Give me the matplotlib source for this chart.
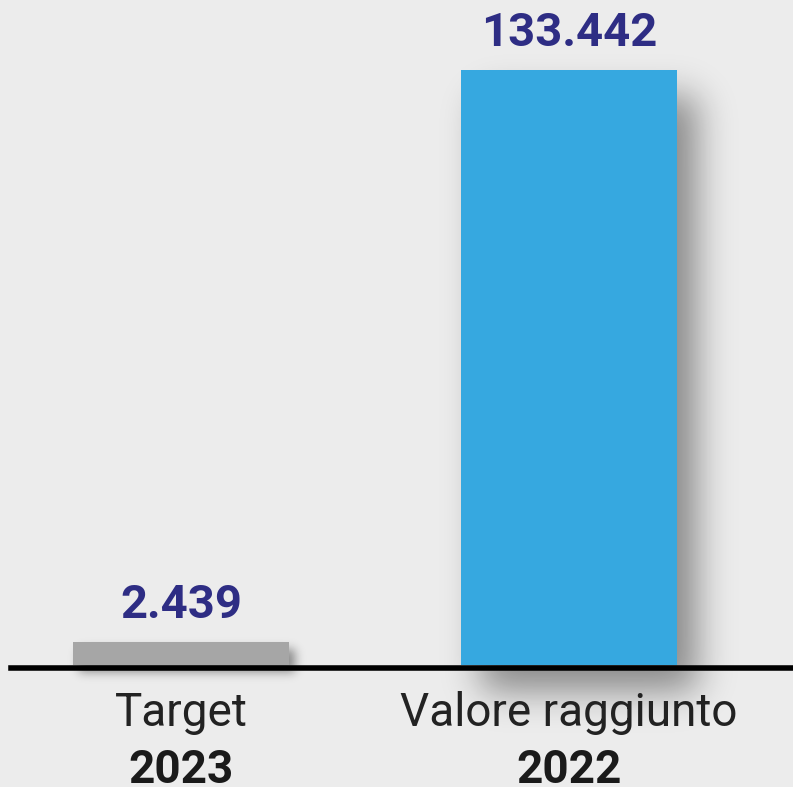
import math
import numpy as np
import matplotlib.pyplot as plt

# data
categories = ["Target", "Valore raggiunto"]
years = ["2023", "2022"]
values = [2439, 133442]
bar_colors = ["#a6a6a6", "#36a8e0"]
min_visible = 5150  # the small target bar is drawn a bit taller in the source

W, H, dpi = 793, 787, 100
fig = plt.figure(figsize=(W / dpi, H / dpi), dpi=dpi, facecolor="#ececec")
ax = fig.add_axes([0, 0, 1, 1])
ax.set_facecolor("#ececec")

px_per_unit = 595 / max(values)
ax.set_ylim(-122 / px_per_unit, 665 / px_per_unit)
ax.set_xlim(-181 / 388, (W - 181) / 388)
ax.axis("off")

x = np.arange(len(values))
heights = np.maximum(values, min_visible)
bars = ax.bar(x, heights, width=216 / 388, color=bar_colors, zorder=2)

# soft drop shadow behind each bar
erf = np.vectorize(math.erf)
xs = np.arange(W) + 0.5
ys = np.arange(H) + 0.5
alpha = np.zeros((H, W))
shadow_params = [(6, 7, 5), (20, 26, 18)]  # dx, dy, sigma in px
for b, (dx, dy, s) in zip(bars, shadow_params):
    (x0, y0), (x1, y1) = ax.transData.transform(
        [(b.get_x(), 0), (b.get_x() + b.get_width(), b.get_height())])
    x0, x1, y0, y1 = x0 + dx, x1 + dx, y0 - dy, y1 - dy
    fx = 0.5 * (erf((xs - x0) / (s * 1.414)) - erf((xs - x1) / (s * 1.414)))
    fy = 0.5 * (erf((ys - y0) / (s * 1.414)) - erf((ys - y1) / (s * 1.414)))
    alpha = np.maximum(alpha, 0.42 * np.outer(fy, fx))
img = np.zeros((H, W, 4))
img[..., 3] = alpha
ax.imshow(img, extent=(*ax.get_xlim(), *ax.get_ylim()), origin="lower",
          aspect="auto", zorder=1, interpolation="bilinear")

# baseline
ax.axhline(-3 / px_per_unit, xmin=11 / W, xmax=1, color="black", lw=4, zorder=3)

for xi, h, v in zip(x, heights, values):
    label = f"{v:,}".replace(",", ".")
    ax.annotate(label, (xi, h), xytext=(0, 17), textcoords="offset points",
                ha="center", va="baseline", fontsize=34, fontweight="bold",
                family="Roboto", color="#2e2d84")

for xi, cat, yr in zip(x, categories, years):
    ax.annotate(cat, (xi, 0), xytext=(0, -44), textcoords="offset points",
                ha="center", va="baseline", fontsize=33, fontweight="normal",
                family="Roboto", color="#222222")
    ax.annotate(yr, (xi, 0), xytext=(0, -85), textcoords="offset points",
                ha="center", va="baseline", fontsize=33, fontweight="bold",
                family="Roboto", color="#1a1a1a")

fig.savefig("out.png", dpi=dpi, facecolor=fig.get_facecolor())
